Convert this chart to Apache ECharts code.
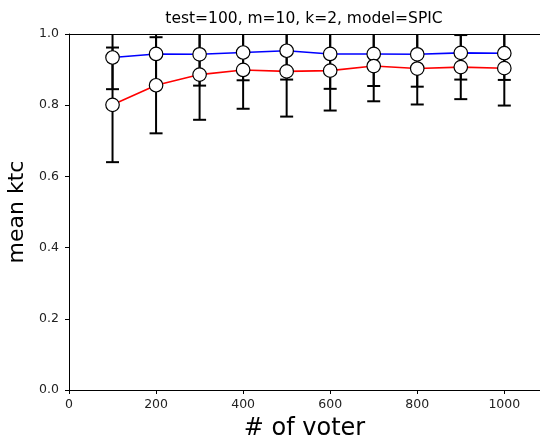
<!DOCTYPE html>
<html>
<head>
    <meta charset="utf-8"/>
    <title>mean ktc</title>
    <script src="https://cdn.jsdelivr.net/npm/echarts@6/dist/echarts.min.js"></script>
    <style>
        html, body { margin: 0; padding: 0; background: #fff; }
        #main { width: 540px; height: 437px; }
    </style>
</head>
<body>
    <div id="main"></div>
    <script type="text/javascript">
        // 数据
        var voters = [100, 200, 300, 400, 500, 600, 700, 800, 900, 1000];
        var blueMean = [0.934, 0.944, 0.943, 0.948, 0.953, 0.944, 0.944, 0.943, 0.947, 0.946];
        var blueStd = [0.089, 0.085, 0.088, 0.078, 0.081, 0.098, 0.090, 0.091, 0.075, 0.075];
        var redMean = [0.801, 0.856, 0.886, 0.899, 0.895, 0.897, 0.910, 0.903, 0.907, 0.904];
        var redStd = [0.161, 0.135, 0.127, 0.109, 0.127, 0.112, 0.099, 0.101, 0.090, 0.105];
        var yTicks = [0, 0.2, 0.4, 0.6, 0.8, 1.0];

        var yMin = yTicks[0], yMax = yTicks[yTicks.length - 1];
        var xMax = 1082;

        function pairs(xs, ys) {
            return xs.map(function (x, i) { return [x, ys[i]]; });
        }
        function errData(xs, m, s) {
            return xs.map(function (x, i) { return [x, m[i], s[i]]; });
        }

        // 误差棒
        function renderErr(params, api) {
            var x = api.value(0), m = api.value(1), s = api.value(2);
            var lo = Math.max(m - s, yMin), hi = m + s;
            var pLo = api.coord([x, lo]);
            var pHi = api.coord([x, Math.min(hi, yMax)]);
            var cap = 6.5;
            var st = { stroke: '#000', lineWidth: 2 };
            var children = [
                { type: 'line', shape: { x1: pLo[0], y1: pLo[1], x2: pHi[0], y2: pHi[1] }, style: st },
                { type: 'line', shape: { x1: pLo[0] - cap, y1: pLo[1], x2: pLo[0] + cap, y2: pLo[1] }, style: st }
            ];
            if (hi <= yMax) {
                children.push({ type: 'line', shape: { x1: pHi[0] - cap, y1: pHi[1], x2: pHi[0] + cap, y2: pHi[1] }, style: st });
            }
            return { type: 'group', children: children };
        }

        var myChart = echarts.init(document.getElementById('main'));
        var font = 'DejaVu Sans';
        var option = {
            animation: false,
            textStyle: { fontFamily: font },
            title: {
                text: 'test=100, m=10, k=2, model=SPIC',
                left: 304,
                top: 11,
                padding: 0,
                textAlign: 'center',
                textStyle: { fontFamily: font, fontSize: 15.5, fontWeight: 'normal', color: '#000' }
            },
            grid: { left: 69, top: 34, right: 0, bottom: 47, outerBoundsMode: 'none', containLabel: false },
            xAxis: [{
                type: 'value',
                min: 0,
                max: xMax,
                interval: 200,
                name: '# of voter',
                nameLocation: 'middle',
                nameGap: 27,
                nameTextStyle: { fontFamily: font, fontSize: 24, color: '#000' },
                axisLine: { onZero: false, lineStyle: { color: '#000', width: 1 } },
                axisTick: { show: true, inside: false, length: 4, lineStyle: { color: '#000' } },
                axisLabel: {
                    fontFamily: font, fontSize: 12.5, color: '#222', margin: 8,
                    showMaxLabel: false,
                    formatter: function (v) { return v % 200 === 0 ? String(v) : ''; }
                },
                splitLine: { show: false }
            }, {
                type: 'value',
                position: 'top',
                min: 0,
                max: xMax,
                axisLine: { show: true, onZero: false, lineStyle: { color: '#000', width: 1 } },
                axisTick: { show: false },
                axisLabel: { show: false },
                splitLine: { show: false }
            }],
            yAxis: {
                type: 'value',
                min: yMin,
                max: yMax,
                interval: 0.2,
                name: 'mean ktc',
                nameLocation: 'middle',
                nameRotate: 90,
                nameGap: 35,
                nameTextStyle: { fontFamily: font, fontSize: 22, color: '#000' },
                axisLine: { show: true, onZero: false, lineStyle: { color: '#000', width: 1 } },
                axisTick: { show: true, inside: false, length: 4, lineStyle: { color: '#000' } },
                axisLabel: {
                    fontFamily: font, fontSize: 12.5, color: '#222', margin: 10,
                    formatter: function (v) { return v.toFixed(1); }
                },
                splitLine: { show: false }
            },
            series: [
                {
                    type: 'custom',
                    renderItem: renderErr,
                    data: errData(voters, blueMean, blueStd),
                    z: 1
                },
                {
                    type: 'custom',
                    renderItem: renderErr,
                    data: errData(voters, redMean, redStd),
                    z: 1
                },
                {
                    name: 'blue',
                    type: 'line',
                    data: pairs(voters, blueMean),
                    symbol: 'circle',
                    symbolSize: 13.5,
                    showAllSymbol: true,
                    lineStyle: { color: '#0000ff', width: 1.6 },
                    itemStyle: { color: '#fff', borderColor: '#000', borderWidth: 1.2 },
                    z: 3
                },
                {
                    name: 'red',
                    type: 'line',
                    data: pairs(voters, redMean),
                    symbol: 'circle',
                    symbolSize: 13.5,
                    showAllSymbol: true,
                    lineStyle: { color: '#ff0000', width: 1.6 },
                    itemStyle: { color: '#fff', borderColor: '#000', borderWidth: 1.2 },
                    z: 4
                }
            ]
        };
        myChart.setOption(option);
    </script>
</body>
</html>
